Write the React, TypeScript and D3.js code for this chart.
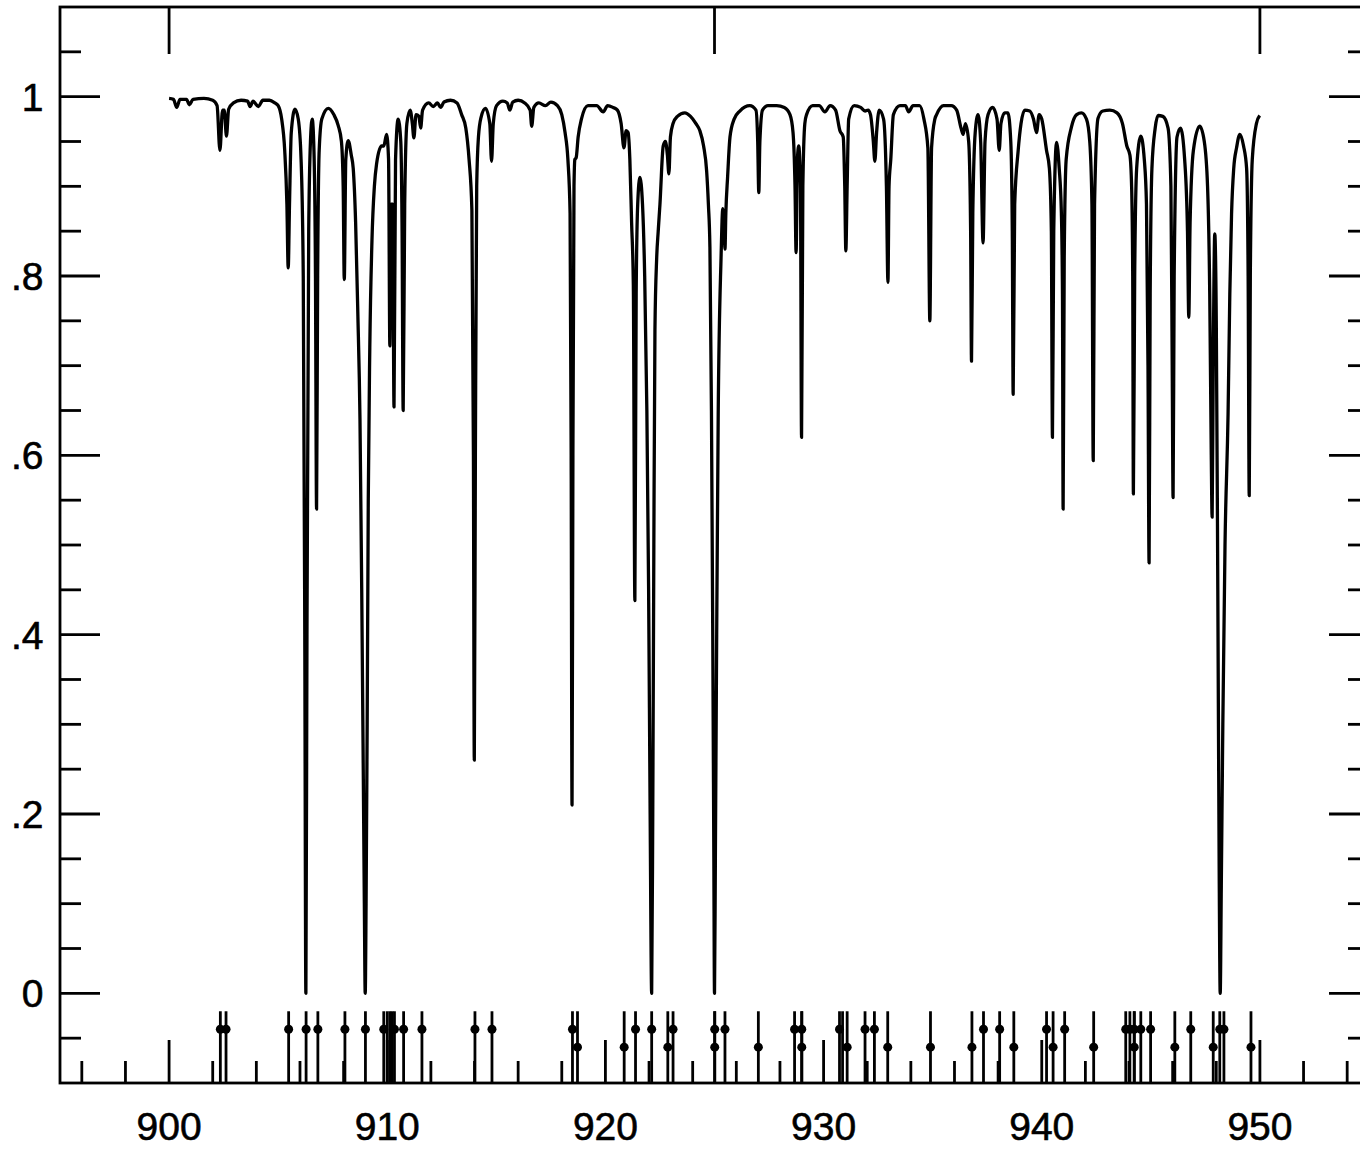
import React from 'react';
import * as d3 from 'd3';

const WIDTH = 1360;
const HEIGHT = 1149;

// Transmission spectrum: [wavelength, transmission]
const spectrum: [number, number][] = [
  [900.0, 0.998], [900.2, 0.997], [900.35, 0.988], [900.5, 0.997], [900.8, 0.997], [900.93, 0.991],
  [901.1, 0.997], [901.6, 0.998], [902.0, 0.996], [902.2, 0.99], [902.33, 0.94], [902.45, 0.985],
  [902.53, 0.985], [902.63, 0.956], [902.73, 0.986], [902.95, 0.993], [903.3, 0.996], [903.6, 0.995],
  [903.71, 0.989], [903.85, 0.995], [904.09, 0.989], [904.3, 0.996], [904.6, 0.996], [904.85, 0.993],
  [905.0, 0.99], [905.16, 0.975], [905.3, 0.94], [905.4, 0.88], [905.46, 0.809], [905.52, 0.88],
  [905.6, 0.96], [905.77, 0.986], [905.92, 0.975], [906.05, 0.93], [906.15, 0.8], [906.22, 0.4],
  [906.27, 0.0], [906.32, 0.4], [906.4, 0.85], [906.48, 0.95], [906.56, 0.975], [906.64, 0.94],
  [906.71, 0.8], [906.76, 0.54], [906.81, 0.8], [906.88, 0.94], [907.0, 0.975], [907.3, 0.987],
  [907.55, 0.98], [907.75, 0.968], [907.9, 0.95], [907.98, 0.9], [908.03, 0.796], [908.1, 0.93],
  [908.21, 0.951], [908.35, 0.935], [908.44, 0.92], [908.55, 0.86], [908.65, 0.76], [908.75, 0.64],
  [908.83, 0.45], [908.9, 0.25], [908.95, 0.1], [908.99, 0.0], [909.03, 0.1], [909.08, 0.3],
  [909.13, 0.55], [909.2, 0.72], [909.3, 0.84], [909.41, 0.9], [909.51, 0.925], [909.74, 0.945],
  [909.84, 0.945], [909.97, 0.958], [910.06, 0.93], [910.12, 0.722], [910.18, 0.88], [910.25, 0.88],
  [910.31, 0.654], [910.38, 0.93], [910.5, 0.975], [910.62, 0.95], [910.68, 0.85], [910.73, 0.65],
  [910.8, 0.88], [910.9, 0.97], [911.05, 0.985], [911.15, 0.97], [911.22, 0.954], [911.32, 0.98],
  [911.45, 0.978], [911.53, 0.965], [911.62, 0.985], [911.9, 0.993], [912.11, 0.989], [912.3, 0.993],
  [912.45, 0.988], [912.6, 0.994], [912.9, 0.996], [913.2, 0.993], [913.41, 0.98], [913.6, 0.965],
  [913.75, 0.93], [913.88, 0.873], [913.95, 0.6], [913.99, 0.26], [914.04, 0.6], [914.1, 0.9],
  [914.18, 0.955], [914.3, 0.977], [914.5, 0.987], [914.7, 0.97], [914.78, 0.928], [914.86, 0.97],
  [915.01, 0.99], [915.3, 0.995], [915.5, 0.993], [915.62, 0.985], [915.75, 0.994], [916.0, 0.996],
  [916.3, 0.993], [916.55, 0.985], [916.62, 0.967], [916.72, 0.988], [916.95, 0.993], [917.25, 0.99],
  [917.5, 0.994], [917.8, 0.99], [918.0, 0.98], [918.15, 0.96], [918.28, 0.93], [918.38, 0.87],
  [918.43, 0.6], [918.47, 0.21], [918.51, 0.6], [918.56, 0.9], [918.6, 0.93], [918.66, 0.932],
  [918.75, 0.955], [918.9, 0.975], [919.2, 0.99], [919.6, 0.99], [919.9, 0.983], [920.1, 0.99],
  [920.35, 0.988], [920.55, 0.985], [920.72, 0.97], [920.85, 0.943], [920.95, 0.962], [921.04, 0.96],
  [921.12, 0.93], [921.2, 0.86], [921.28, 0.79], [921.35, 0.438], [921.41, 0.78], [921.48, 0.88],
  [921.58, 0.91], [921.7, 0.88], [921.8, 0.8], [921.9, 0.65], [921.98, 0.45], [922.05, 0.2],
  [922.12, 0.0], [922.17, 0.2], [922.22, 0.5], [922.27, 0.74], [922.35, 0.82], [922.42, 0.85],
  [922.5, 0.88], [922.65, 0.945], [922.75, 0.95], [922.84, 0.935], [922.91, 0.914], [922.98, 0.955],
  [923.1, 0.97], [923.3, 0.978], [923.64, 0.982], [923.9, 0.978], [924.15, 0.97], [924.33, 0.962],
  [924.5, 0.945], [924.64, 0.917], [924.72, 0.88], [924.79, 0.832], [924.86, 0.65], [924.92, 0.4],
  [924.97, 0.15], [925.0, 0.0], [925.04, 0.15], [925.1, 0.4], [925.17, 0.646], [925.3, 0.82],
  [925.38, 0.875], [925.45, 0.85], [925.48, 0.83], [925.52, 0.87], [925.6, 0.91], [925.71, 0.955],
  [925.9, 0.975], [926.16, 0.984], [926.62, 0.99], [926.9, 0.985], [926.98, 0.95], [927.03, 0.893],
  [927.08, 0.95], [927.2, 0.985], [927.45, 0.99], [927.85, 0.99], [928.2, 0.988], [928.46, 0.98],
  [928.6, 0.96], [928.69, 0.9], [928.74, 0.826], [928.8, 0.93], [928.86, 0.945], [928.94, 0.9],
  [928.99, 0.62], [929.05, 0.9], [929.14, 0.97], [929.22, 0.98], [929.5, 0.99], [929.8, 0.99],
  [930.06, 0.983], [930.3, 0.99], [930.55, 0.985], [930.75, 0.962], [930.9, 0.955], [930.97, 0.9],
  [931.02, 0.828], [931.08, 0.9], [931.15, 0.975], [931.4, 0.99], [931.7, 0.988], [931.9, 0.984],
  [932.04, 0.985], [932.15, 0.98], [932.28, 0.95], [932.35, 0.928], [932.43, 0.96], [932.55, 0.985],
  [932.75, 0.975], [932.88, 0.9], [932.95, 0.793], [933.0, 0.9], [933.08, 0.93], [933.2, 0.98],
  [933.5, 0.99], [933.75, 0.99], [933.9, 0.983], [934.1, 0.99], [934.4, 0.99], [934.6, 0.975],
  [934.78, 0.943], [934.87, 0.75], [934.95, 0.943], [935.1, 0.975], [935.18, 0.98], [935.5, 0.99],
  [935.85, 0.99], [936.1, 0.985], [936.3, 0.965], [936.4, 0.958], [936.5, 0.97], [936.65, 0.95],
  [936.74, 0.85], [936.78, 0.705], [936.84, 0.87], [936.95, 0.96], [937.08, 0.98], [937.2, 0.95],
  [937.31, 0.837], [937.4, 0.95], [937.54, 0.98], [937.75, 0.988], [937.95, 0.975], [938.05, 0.94],
  [938.13, 0.97], [938.3, 0.982], [938.45, 0.982], [938.58, 0.95], [938.65, 0.85], [938.69, 0.668],
  [938.76, 0.88], [938.92, 0.94], [939.05, 0.97], [939.22, 0.985], [939.45, 0.984], [939.62, 0.975],
  [939.76, 0.96], [939.88, 0.98], [940.0, 0.975], [940.22, 0.94], [940.35, 0.92], [940.44, 0.85],
  [940.49, 0.62], [940.55, 0.85], [940.68, 0.949], [940.8, 0.92], [940.9, 0.87], [940.95, 0.78],
  [940.98, 0.54], [941.03, 0.82], [941.12, 0.93], [941.36, 0.966], [941.6, 0.98], [941.82, 0.982],
  [942.05, 0.975], [942.2, 0.95], [942.3, 0.88], [942.36, 0.594], [942.42, 0.88], [942.58, 0.976],
  [942.8, 0.984], [943.12, 0.985], [943.45, 0.982], [943.7, 0.97], [943.9, 0.945], [944.04, 0.935],
  [944.12, 0.899], [944.17, 0.8], [944.2, 0.557], [944.26, 0.8], [944.35, 0.92], [944.54, 0.956],
  [944.7, 0.93], [944.8, 0.88], [944.87, 0.7], [944.92, 0.48], [944.97, 0.78], [945.05, 0.92],
  [945.2, 0.965], [945.33, 0.979], [945.55, 0.978], [945.79, 0.965], [945.92, 0.9], [945.98, 0.7],
  [946.02, 0.553], [946.07, 0.8], [946.2, 0.955], [946.36, 0.965], [946.55, 0.93], [946.68, 0.85],
  [946.74, 0.754], [946.8, 0.86], [946.95, 0.94], [947.24, 0.967], [947.45, 0.95], [947.6, 0.9],
  [947.7, 0.78], [947.77, 0.6], [947.81, 0.531], [947.86, 0.7], [947.93, 0.847], [948.0, 0.75],
  [948.07, 0.45], [948.13, 0.15], [948.18, 0.0], [948.23, 0.12], [948.3, 0.3], [948.4, 0.5],
  [948.54, 0.646], [948.62, 0.78], [948.7, 0.869], [948.8, 0.92], [948.93, 0.943], [949.08, 0.958],
  [949.25, 0.945], [949.39, 0.92], [949.46, 0.8], [949.51, 0.555], [949.56, 0.8], [949.65, 0.93],
  [949.84, 0.97], [949.99, 0.979],
];

// Line identification markers (wavelengths) with dot at upper / lower level, or none
const markersUpper: number[] = [
  902.35, 902.61, 905.48, 906.28, 906.82, 908.06, 909.0, 909.84, 910.33, 910.75, 911.59,
  914.02, 914.8, 918.49, 921.38, 922.12, 923.1, 925.01, 925.48, 928.67, 929.0, 930.73,
  931.9, 932.33, 937.33, 938.07, 940.22, 941.05, 943.85, 944.04, 944.24, 944.54, 944.99,
  946.83, 948.16, 948.35,
];
const markersLower: number[] = [
  918.72, 920.86, 922.86, 925.01, 927.01, 929.0, 931.08, 932.94, 934.9, 936.8, 938.72,
  940.52, 942.38, 944.24, 946.1, 947.86, 949.59,
];
const markersPlain: number[] = [910.0, 910.12, 910.22, 930.87];

const MARKER_TOP = -0.02;
const DOT_UPPER = -0.04;
const DOT_LOWER = -0.06;

const yMajorTicks = [0, 0.2, 0.4, 0.6, 0.8, 1];
const yTickLabels = ['0', '.2', '.4', '.6', '.8', '1'];
const yMinorTicks = [-0.05, 0.05, 0.1, 0.15, 0.25, 0.3, 0.35, 0.45, 0.5, 0.55, 0.65, 0.7, 0.75, 0.85, 0.9, 0.95, 1.05];
const xLabelTicks = [900, 910, 920, 930, 940, 950];
const xMinorTicks = [896, 898, 902, 904, 906, 908, 912, 914, 916, 918, 922, 924, 926, 928, 932, 934, 936, 938, 942, 944, 946, 948, 952, 954];
const xTopTicks = [900, 925, 950];

export default function App() {
  const left = 60, right = 1369, top = 7, bottom = 1083;
  const x = d3.scaleLinear().domain([895, 955]).range([left, right]);
  const y = d3.scaleLinear().domain([-0.1, 1.1]).range([bottom, top]);

  const line = d3
    .line<[number, number]>()
    .x((d) => x(d[0]))
    .y((d) => y(d[1]))
    .curve(d3.curveMonotoneX);

  const sw = 2.8;
  const font = '"Liberation Sans", Arial, Helvetica, sans-serif';

  const marker = (w: number, dot: number | null, key: string) => (
    <g key={key}>
      <line x1={x(w)} x2={x(w)} y1={y(MARKER_TOP)} y2={bottom} stroke="#000" strokeWidth={2.8} />
      {dot !== null && <circle cx={x(w)} cy={y(dot)} r={4.5} fill="#000" />}
    </g>
  );

  return (
    <div style={{ position: 'absolute', left: 0, top: 0, width: WIDTH, height: HEIGHT, overflow: 'hidden', background: '#fff' }}>
      <svg width={WIDTH} height={HEIGHT} style={{ display: 'block' }}>
        <rect x={0} y={0} width={WIDTH} height={HEIGHT} fill="#fff" />
        {/* frame */}
        <rect x={left} y={top} width={right - left} height={bottom - top} fill="none" stroke="#000" strokeWidth={sw} />

        {/* left & right y ticks */}
        {yMajorTicks.map((v) => (
          <g key={'ym' + v}>
            <line x1={left} x2={left + 40} y1={y(v)} y2={y(v)} stroke="#000" strokeWidth={sw} />
            <line x1={right - 40} x2={right} y1={y(v)} y2={y(v)} stroke="#000" strokeWidth={sw} />
          </g>
        ))}
        {yMinorTicks.map((v) => (
          <g key={'yn' + v}>
            <line x1={left} x2={left + 21} y1={y(v)} y2={y(v)} stroke="#000" strokeWidth={sw} />
            <line x1={right - 21} x2={right} y1={y(v)} y2={y(v)} stroke="#000" strokeWidth={sw} />
          </g>
        ))}
        {yMajorTicks.map((v, i) => (
          <text key={'yl' + v} x={43.5} y={y(v) + 14} textAnchor="end" fontFamily={font} fontSize={39} fill="#000" stroke="#000" strokeWidth={0.6}>
            {yTickLabels[i]}
          </text>
        ))}

        {/* bottom x ticks */}
        {xLabelTicks.map((v) => (
          <line key={'xm' + v} x1={x(v)} x2={x(v)} y1={bottom} y2={bottom - 43} stroke="#000" strokeWidth={sw} />
        ))}
        {xMinorTicks.map((v) => (
          <line key={'xn' + v} x1={x(v)} x2={x(v)} y1={bottom} y2={bottom - 22} stroke="#000" strokeWidth={sw} />
        ))}
        {xLabelTicks.map((v) => (
          <text key={'xl' + v} x={x(v)} y={1140} textAnchor="middle" fontFamily={font} fontSize={39} fill="#000" stroke="#000" strokeWidth={0.6}>
            {v}
          </text>
        ))}
        {/* top ticks */}
        {xTopTicks.map((v) => (
          <line key={'xt' + v} x1={x(v)} x2={x(v)} y1={top} y2={top + 47} stroke="#000" strokeWidth={sw} />
        ))}

        {/* line markers */}
        {markersPlain.map((w, i) => marker(w, null, 'mp' + i))}
        {markersUpper.map((w, i) => marker(w, DOT_UPPER, 'mu' + i))}
        {markersLower.map((w, i) => marker(w, DOT_LOWER, 'ml' + i))}

        {/* spectrum */}
        <path d={line(spectrum) || ''} fill="none" stroke="#000" strokeWidth={3.3} strokeLinejoin="round" />
      </svg>
    </div>
  );
}
